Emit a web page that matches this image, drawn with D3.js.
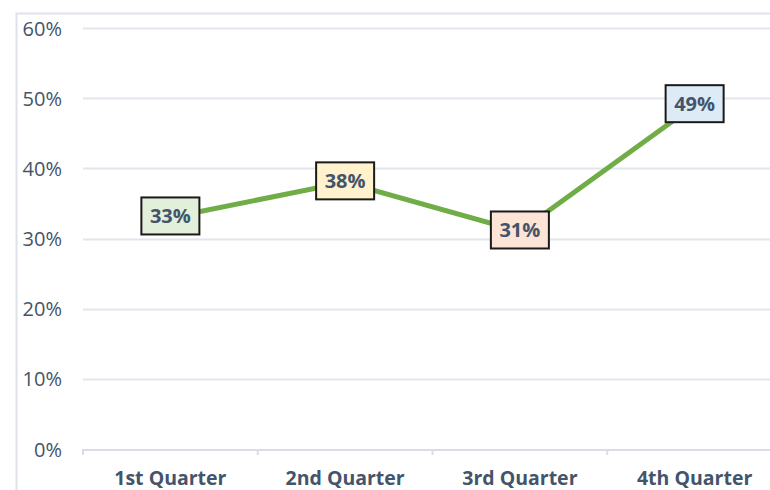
<!DOCTYPE html>
<html>
<head>
<meta charset="utf-8">
<script src="https://cdn.jsdelivr.net/npm/d3@7"></script>
<style>
  body { margin: 0; background: #fff; }
  svg { display: block; font-family: "Open Sans", sans-serif; }
</style>
</head>
<body>
<svg id="chart" width="770" height="490"></svg>
<script>
var categories = ["1st Quarter", "2nd Quarter", "3rd Quarter", "4th Quarter"];
var values = [33, 38, 31, 49];
var labelFills = ["#E2EFDA", "#FFF2CC", "#FCE4D6", "#DDEBF7"];
var yTicks = [0, 10, 20, 30, 40, 50, 60];

var svg = d3.select("#chart"),
	margin = {top: 28, left: 83, bottom: 41, right: -12},
	width = +svg.attr("width"),
	height = +svg.attr("height");

// outer chart frame (cropped on right/bottom)
svg.append("rect")
	.attr("x", 16.5).attr("y", 13.5)
	.attr("width", 800).attr("height", 600)
	.attr("fill", "none")
	.attr("stroke", "#DEE2E9")
	.attr("stroke-width", 2);

var x = d3.scaleBand()
	.domain(categories)
	.range([margin.left, width - margin.right]);

var y = d3.scaleLinear()
	.domain([0, 60])
	.range([height - margin.bottom, margin.top]);

// gridlines
svg.append("g")
	.selectAll("line")
	.data(yTicks.slice(1))
	.join("line")
	.attr("x1", margin.left).attr("x2", width - margin.right)
	.attr("y1", d => Math.round(y(d)) + 0.5).attr("y2", d => Math.round(y(d)) + 0.5)
	.attr("stroke", "#E1E5EC")
	.attr("stroke-width", 2);

// y axis labels
var yAxis = svg.append("g")
	.attr("transform", `translate(${margin.left - 21},0)`)
	.call(d3.axisLeft(y).tickValues(yTicks).tickSize(0).tickFormat(d => d + "%"));
yAxis.select(".domain").remove();
yAxis.selectAll("text")
	.attr("fill", "#44546A")
	.attr("font-size", 20)
	.attr("font-family", "Open Sans, sans-serif")
	.attr("dy", "0.35em")
	.attr("x", 0);

// x axis
var xAxis = svg.append("g")
	.attr("transform", `translate(0,${Math.round(y(0)) + 0.5})`)
	.call(d3.axisBottom(x).tickSize(0));
xAxis.select(".domain")
	.attr("stroke", "#D9DEE6").attr("stroke-width", 2);
xAxis.selectAll("text")
	.attr("fill", "#44546A")
	.attr("font-size", 19.5)
	.attr("font-weight", "bold")
	.attr("font-family", "Open Sans, sans-serif")
	.attr("y", 29)
	.attr("dy", "0.35em");

// category separator ticks
svg.append("g")
	.selectAll("line")
	.data(categories)
	.join("line")
	.attr("x1", d => x(d)).attr("x2", d => x(d))
	.attr("y1", y(0)).attr("y2", y(0) + 6)
	.attr("stroke", "#D9DEE6")
	.attr("stroke-width", 2);

var pts = categories.map((c, i) => ({c: c, v: values[i], fill: labelFills[i]}));

// line
svg.append("path")
	.datum(pts)
	.attr("fill", "none")
	.attr("stroke", "#70AD47")
	.attr("stroke-width", 5)
	.attr("d", d3.line()
		.x(d => x(d.c) + x.bandwidth() / 2)
		.y(d => y(d.v)));

// data labels
var lab = svg.append("g")
	.selectAll("g")
	.data(pts)
	.join("g")
	.attr("transform", d => `translate(${x(d.c) + x.bandwidth() / 2},${y(d.v) - 1})`);

lab.append("rect")
	.attr("x", -29).attr("y", -19)
	.attr("width", 58).attr("height", 37)
	.attr("fill", d => d.fill)
	.attr("stroke", "#1a1a1a")
	.attr("stroke-width", 2);

lab.append("text")
	.attr("text-anchor", "middle")
	.attr("dy", "0.35em")
	.attr("fill", "#44546A")
	.attr("font-size", 20)
	.attr("font-weight", "bold")
	.text(d => d.v + "%");
</script>
</body>
</html>
